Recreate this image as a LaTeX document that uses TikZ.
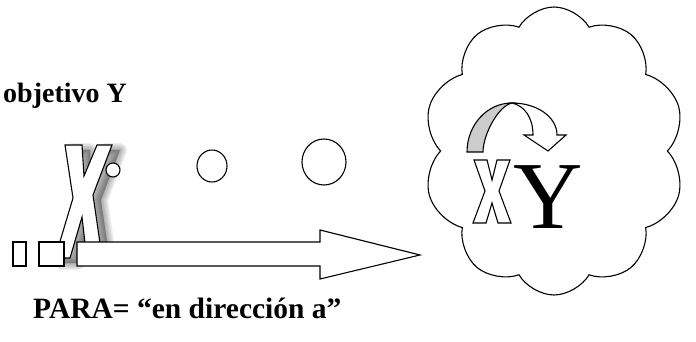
\documentclass[tikz,border=0pt]{standalone}
\usepackage{fontspec}
\setmainfont{Liberation Serif}
\usetikzlibrary{shapes.symbols}
\newcommand\bigXpath{(65,145) -- (82,145) -- (84,176) -- (97,145) -- (112,145) -- (93,195) -- (100,243) -- (85,243) -- (82,217) -- (70,258) -- (55,258) -- (73,198) -- cycle}
\newcommand\smallXpath{(474,160) -- (487,160) -- (492,180) -- (497,160) -- (510,160) -- (499,191) -- (511,223) -- (498,223) -- (492,203) -- (486,223) -- (473,223) -- (485,191) -- cycle}
\tikzset{
  outl/.style={draw=black, line width=1.1pt, fill=white, line join=miter},
  lbl/.style={font=\bfseries\fontsize{28}{30}\selectfont, inner sep=0pt, anchor=base west},
}
\begin{document}
\begin{tikzpicture}[x=1pt,y=-1pt]
\useasboundingbox (0,0) rectangle (696,342);
% cloud
\node[cloud, draw, line width=1.1pt, cloud puffs=10, cloud puff arc=120, aspect=0.9,
      minimum width=262pt, minimum height=288pt, inner sep=0pt] (cl) at (554,151) {};
% texts
\node[lbl] (obj) at (3,103) {objetivo Y};
\node[lbl, font=\bfseries\fontsize{29.5}{32}\selectfont] (para) at (33,318) {PARA= “en dirección a”};
% shadow of big X
\foreach \w in {14,11,8,5,2}{
  \path[draw=black, fill=black, line width=\w pt, opacity=0.07, line join=round, shift={(8,5)}] \bigXpath;
}
% big X
\path[outl] \bigXpath;
% small circles
\draw[outl] (113,170) circle[radius=7];
\draw[outl] (212,166) ellipse[x radius=15, y radius=16];
\draw[outl] (324,162) ellipse[x radius=22, y radius=23];
% boxes and arrow
\draw[outl] (13,242) rectangle (26,266);
\draw[outl] (39,242) rectangle (64,266);
\draw[outl] (77,242) -- (320,242) -- (320,230) -- (420,255) -- (320,279) -- (320,266) -- (77,266) -- cycle;
% inside the cloud
\path[outl] \smallXpath;
\node[font=\fontsize{96}{96}\selectfont, inner sep=0pt, anchor=base] (bigY) at (548,228) {Y};
% curved arrow
\draw[outl, fill=black!20] (467,152) .. controls (467,125) and (487,103) .. (512,103)
   .. controls (498,106) and (483,135) .. (483,152) -- cycle;
\draw[outl] (512,103) .. controls (537,103) and (557,117) .. (557,135)
   -- (566,135) -- (548,151) -- (524,135) -- (533,135)
   .. controls (533,118) and (525,106) .. (512,103) -- cycle;
\end{tikzpicture}
\end{document}
